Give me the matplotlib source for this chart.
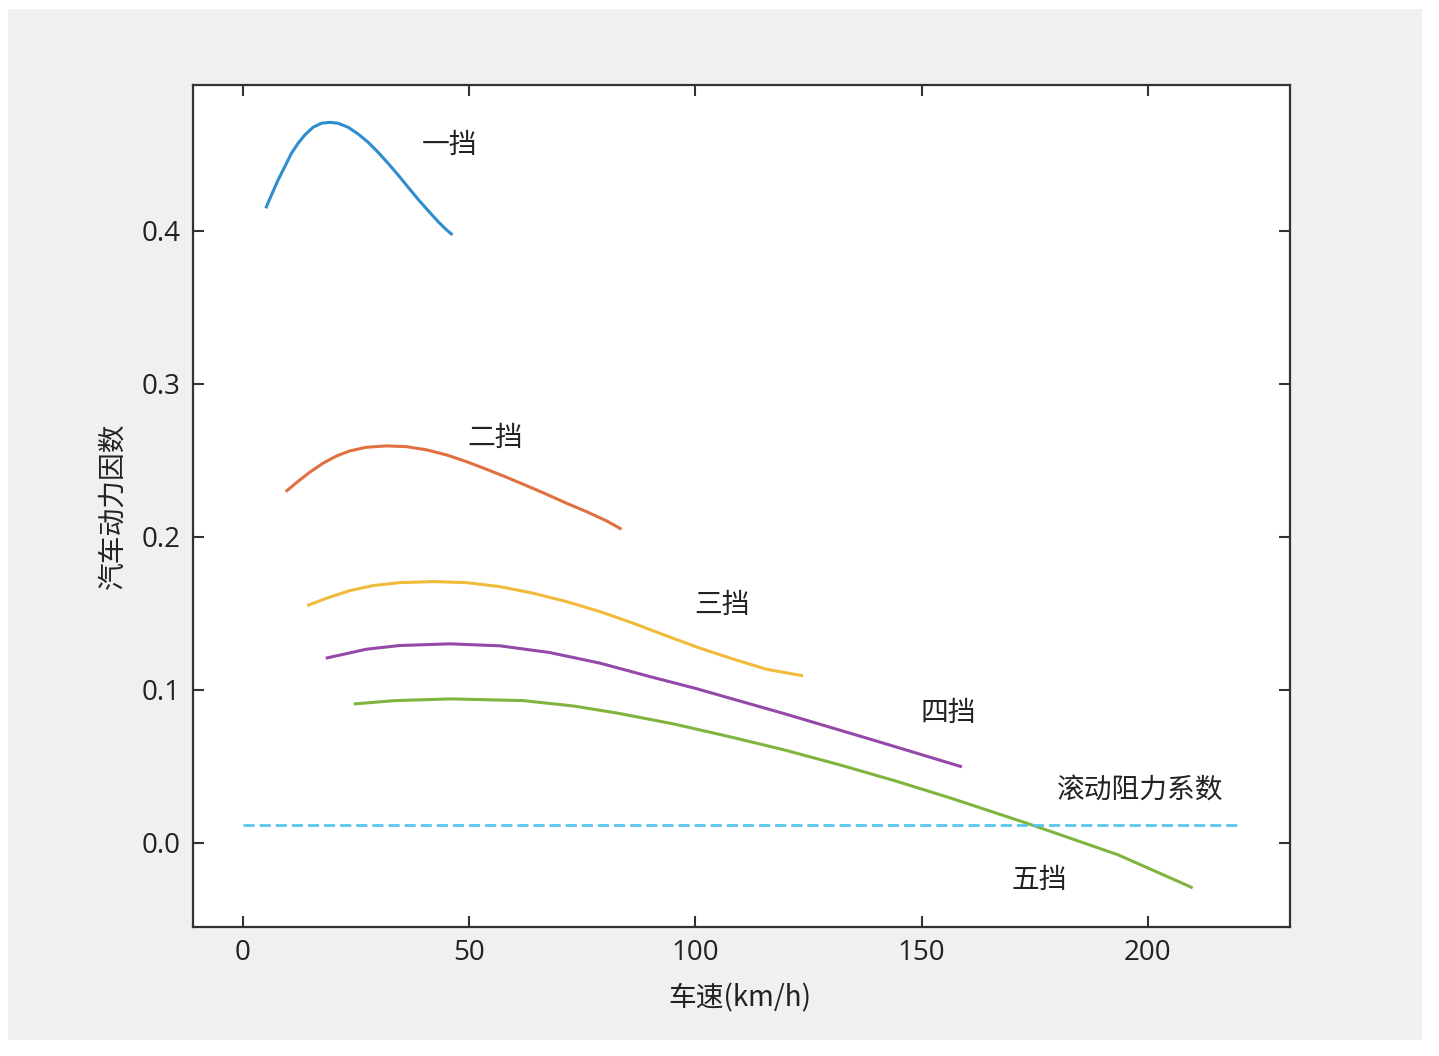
import matplotlib
matplotlib.use("Agg")
import matplotlib.pyplot as plt
from matplotlib.patches import Rectangle

plt.rcParams['font.family'] = ['Noto Sans CJK SC', 'DejaVu Sans']

# speed (km/h) and dynamic factor D, per gear
v1 = [5.08, 6.34, 7.80, 9.28, 10.76, 12.22, 13.70, 15.54, 17.39, 19.23, 21.06, 23.27,
      25.48, 27.69, 29.90, 32.11, 34.32, 36.53, 38.74, 40.95, 43.16, 45.02, 46.34]
d1 = [0.4148, 0.4235, 0.4333, 0.4420, 0.4508, 0.4573, 0.4627, 0.4678, 0.4704, 0.4710, 0.4704, 0.4678,
      0.4634, 0.4580, 0.4514, 0.4442, 0.4366, 0.4286, 0.4207, 0.4133, 0.4061, 0.4007, 0.3974]

v2 = [9.50, 11.87, 14.81, 17.75, 20.71, 23.65, 27.34, 31.76, 36.18, 40.60, 45.02, 49.44,
      53.86, 58.28, 62.70, 67.11, 71.54, 75.96, 80.38, 83.69]
d2 = [0.2296, 0.2355, 0.2423, 0.2482, 0.2529, 0.2562, 0.2586, 0.2595, 0.2590, 0.2569, 0.2536, 0.2492,
      0.2442, 0.2390, 0.2335, 0.2279, 0.2220, 0.2165, 0.2105, 0.2050]

v3 = [14.21, 18.50, 23.65, 28.80, 34.70, 42.06, 49.44, 56.80, 64.15, 71.54, 78.90, 86.25,
      93.64, 101.0, 108.4, 115.7, 123.8]
d3 = [0.1551, 0.1599, 0.1649, 0.1682, 0.1701, 0.1708, 0.1701, 0.1675, 0.1632, 0.1577, 0.1512, 0.1436,
      0.1353, 0.1273, 0.1201, 0.1135, 0.1092]

v4 = [18.34, 27.34, 34.70, 45.75, 56.80, 67.85, 78.90, 89.94, 100.0, 119.6, 139.3, 158.9]
d4 = [0.1207, 0.1266, 0.1290, 0.1301, 0.1288, 0.1244, 0.1175, 0.1087, 0.1010, 0.0845, 0.0672, 0.0497]

v5 = [24.5, 33.7, 46.0, 61.9, 73.0, 82.8, 95.1, 107.4, 119.6, 131.9, 144.2, 156.5, 173.7, 193.4, 209.9]
d5 = [0.0908, 0.0930, 0.0941, 0.0930, 0.0895, 0.0848, 0.0778, 0.0695, 0.0608, 0.0510, 0.0405, 0.0292,
      0.0124, -0.0078, -0.0294]

f_range = [0, 220]
f_roll = [0.012, 0.012]

gear_labels = ['一挡', '二挡', '三挡', '四挡', '五挡']
label_v = [45.7, 55.7, 105.9, 155.8, 176.0]
label_d = [0.456, 0.265, 0.1556, 0.085, -0.024]

colors = ['#2f8ccf', '#e0703f', '#f0bb3a', '#9449a8', '#80b43f']

fig = plt.figure(figsize=(14.39, 10.56), dpi=100, facecolor='white')
fig.patches.append(Rectangle((8 / 1439, 1 - 1040 / 1056), 1414 / 1439, 1031 / 1056,
                             transform=fig.transFigure, facecolor='#f0f0f0',
                             edgecolor='none', zorder=-10))

ax = fig.add_axes([193 / 1439, 1 - 927 / 1056, 1097 / 1439, 842 / 1056])
ax.set_facecolor('white')

for v, d, c in zip([v1, v2, v3, v4, v5], [d1, d2, d3, d4, d5], colors):
    ax.plot(v, d, color=c, lw=2.2, solid_capstyle='butt', solid_joinstyle='round')

ax.plot(f_range, f_roll, color='#5cc4f0', lw=2.0, ls=(0, (4, 1.8)))

for t, x, y in zip(gear_labels, label_v, label_d):
    ax.text(x, y, t, fontsize=20, ha='center', va='center', color='#222222')
ax.text(198.2, 0.0346, '滚动阻力系数', fontsize=20, ha='center', va='center', color='#222222')

ax.set_xlim(-11, 231.4)
ax.set_ylim(-0.055, 0.4954)
ax.set_xticks([0, 50, 100, 150, 200])
ax.set_yticks([0.0, 0.1, 0.2, 0.3, 0.4])
ax.set_yticklabels(['0.0', '0.1', '0.2', '0.3', '0.4'])

for s in ax.spines.values():
    s.set_linewidth(1.6)
    s.set_color('#333333')
ax.tick_params(direction='in', length=8, width=1.5, color='#333333',
               top=True, right=True, labelsize=20, labelcolor='#222222', pad=9)
for lab in ax.get_xticklabels() + ax.get_yticklabels():
    lab.set_family(['Open Sans', 'DejaVu Sans'])

ax.set_xlabel('车速(km/h)', fontsize=20, color='#222222')
ax.set_ylabel('汽车动力因数', fontsize=20, color='#222222')
ax.xaxis.set_label_coords(0.4986, -0.0666)
ax.yaxis.set_label_coords(-0.0593, 0.5)

fig.savefig('out.png', dpi=100, facecolor='white')
